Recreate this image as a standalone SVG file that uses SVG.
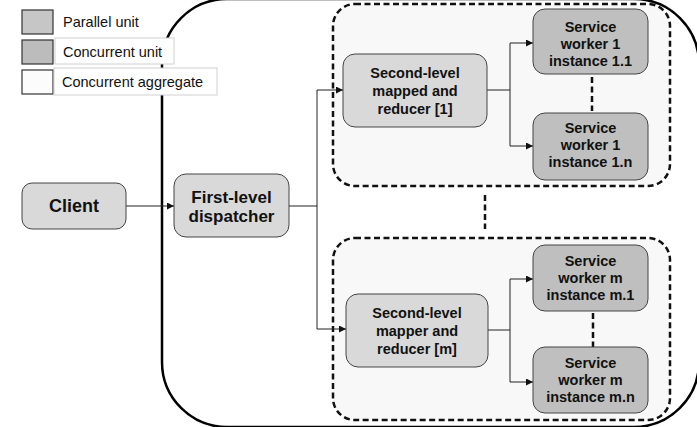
<svg xmlns="http://www.w3.org/2000/svg" width="697" height="427" viewBox="0 0 697 427">
<defs>
<marker id="arr" viewBox="0 0 10 10" refX="10" refY="5" markerWidth="7" markerHeight="7" markerUnits="userSpaceOnUse" orient="auto">
<path d="M0,0 L10,5 L0,10 z" fill="#111"/>
</marker>
<style>
.lg{font-family:"Liberation Sans",Arial,sans-serif;font-size:14.5px;fill:#111}
.t{font-family:"Liberation Sans",Arial,sans-serif;font-weight:bold;font-size:14.5px;fill:#111;text-anchor:middle}
.tb{font-family:"Liberation Sans",Arial,sans-serif;font-weight:bold;font-size:17px;fill:#111;text-anchor:middle}
.pu{fill:#d9d9d9;stroke:#444;stroke-width:1}
.cu{fill:#bfbfbf;stroke:#444;stroke-width:1}
.agg{fill:#f8f8f8;stroke:#111;stroke-width:2.5;stroke-dasharray:6,3.5}
.dash{stroke:#111;stroke-width:2.5;stroke-dasharray:6,3.5;fill:none}
.c{stroke:#222;stroke-width:1;fill:none}
</style>
</defs>
<rect width="697" height="427" fill="#fff"/>
<g id="outer">
<rect x="162" y="-1" width="537" height="428" rx="65" ry="65" fill="none" stroke="#000" stroke-width="2.5"/>
</g>
<g id="legend">
<rect x="22" y="10" width="31" height="24" fill="#c6c6c6" stroke="#333" stroke-width="1.2"/>
<text class="lg" x="63" y="27">Parallel unit</text>
<rect x="22" y="40" width="31" height="24" fill="#bcbcbc" stroke="#333" stroke-width="1.2"/>
<rect x="55" y="38" width="119" height="26" fill="#fff" stroke="#d0d0d0" stroke-width="1"/>
<text class="lg" x="63" y="57">Concurrent unit</text>
<rect x="22" y="70" width="31" height="24" fill="#fcfcfc" stroke="#333" stroke-width="1.2"/>
<rect x="54" y="68" width="163" height="27" fill="#fff" stroke="#d0d0d0" stroke-width="1"/>
<text class="lg" x="62" y="87">Concurrent aggregate</text>
</g>
<g id="aggregate1"><rect class="agg" x="333" y="4" width="337" height="182" rx="22" ry="22"/></g>
<g id="aggregate2"><rect class="agg" x="333" y="238" width="337" height="182" rx="22" ry="22"/></g>
<g id="connectors">
<line class="c" x1="126" y1="206" x2="174" y2="206" marker-end="url(#arr)"/>
<polyline class="c" points="289,206 317,206 317,90 343,90" marker-end="url(#arr)"/>
<polyline class="c" points="317,206 317,329 346,329" marker-end="url(#arr)"/>
<line class="c" x1="487" y1="90" x2="510" y2="90"/>
<polyline class="c" points="510,43 510,146 533,146" marker-end="url(#arr)"/>
<line class="c" x1="510" y1="43" x2="533" y2="43" marker-end="url(#arr)"/>
<line class="c" x1="488" y1="330" x2="510" y2="330"/>
<polyline class="c" points="510,279 510,382 533,382" marker-end="url(#arr)"/>
<line class="c" x1="510" y1="279" x2="533" y2="279" marker-end="url(#arr)"/>
<line class="dash" x1="485" y1="195" x2="485" y2="229"/>
<line class="dash" x1="592" y1="77" x2="592" y2="111"/>
<line class="dash" x1="593" y1="313" x2="593" y2="347"/>
</g>
<g id="client">
<rect class="pu" x="22" y="183" width="104" height="46" rx="10" ry="10"/>
<text class="tb" x="74" y="212" style="font-size:18px">Client</text>
</g>
<g id="dispatcher">
<rect class="pu" x="174" y="174" width="115" height="63" rx="12" ry="12"/>
<text class="tb" x="231.5" y="203">First-level</text>
<text class="tb" x="231.5" y="222">dispatcher</text>
</g>
<g id="reducer1">
<rect class="pu" x="343" y="54" width="144" height="73" rx="12" ry="12"/>
<text class="t" x="415" y="78">Second-level</text>
<text class="t" x="415" y="96">mapped and</text>
<text class="t" x="415" y="114">reducer [1]</text>
</g>
<g id="worker11">
<rect class="cu" x="533" y="9" width="115" height="65" rx="12" ry="12"/>
<text class="t" x="590.5" y="32">Service</text>
<text class="t" x="590.5" y="49">worker 1</text>
<text class="t" x="590.5" y="66">instance 1.1</text>
</g>
<g id="worker1n">
<rect class="cu" x="533" y="113" width="115" height="67" rx="12" ry="12"/>
<text class="t" x="590.5" y="133">Service</text>
<text class="t" x="590.5" y="150">worker 1</text>
<text class="t" x="590.5" y="167">instance 1.n</text>
</g>
<g id="reducerm">
<rect class="pu" x="346" y="294" width="142" height="73" rx="12" ry="12"/>
<text class="t" x="417" y="318">Second-level</text>
<text class="t" x="417" y="336">mapper and</text>
<text class="t" x="417" y="354">reducer [m]</text>
</g>
<g id="workerm1">
<rect class="cu" x="533" y="245" width="115" height="66" rx="12" ry="12"/>
<text class="t" x="590.5" y="266">Service</text>
<text class="t" x="590.5" y="283">worker m</text>
<text class="t" x="590.5" y="300">instance m.1</text>
</g>
<g id="workermn">
<rect class="cu" x="533" y="347" width="115" height="66" rx="12" ry="12"/>
<text class="t" x="590.5" y="368">Service</text>
<text class="t" x="590.5" y="385">worker m</text>
<text class="t" x="590.5" y="402">instance m.n</text>
</g>
</svg>
